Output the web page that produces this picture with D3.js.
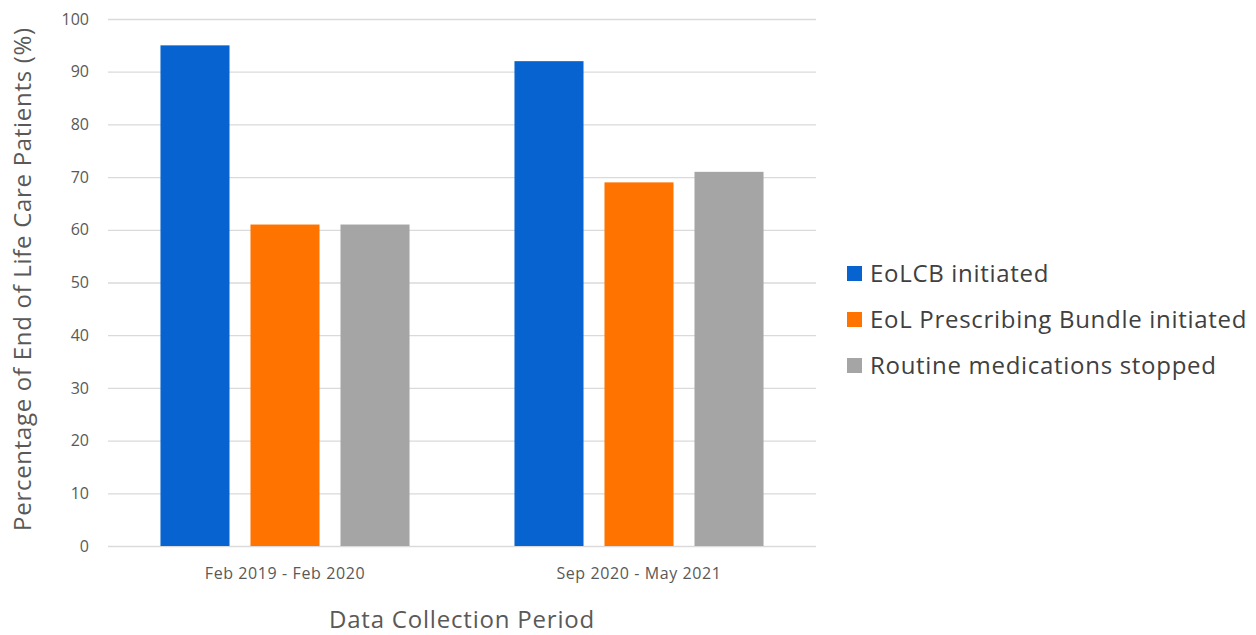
<!DOCTYPE html>
<html>
<head>
<meta charset="utf-8">
<script src="https://cdn.jsdelivr.net/npm/d3@7"></script>
<style>
	body { margin: 0; background: #fff; }
	svg text { font-family: "Open Sans", Lato, sans-serif; }
</style>
</head>
<body>
<svg id="chart" width="1256" height="635"></svg>
<script>

// data
const PERIODS = ['Feb 2019 - Feb 2020', 'Sep 2020 - May 2021'];
const SERIES = ['EoLCB initiated', 'EoL Prescribing Bundle initiated', 'Routine medications stopped'];
const EOLCB = [95, 92];
const PRESCRIBING = [61, 69];
const ROUTINE = [61, 71];
const Y_TICKS = [0, 10, 20, 30, 40, 50, 60, 70, 80, 90, 100];

const COLORS = ['#0763d0', '#ff7400', '#a5a5a5'];

const svg = d3.select('#chart');
const margin = {left: 108, right: 440, top: 19, bottom: 89};
const width = 1256 - margin.left - margin.right;
const height = 635 - margin.top - margin.bottom;

const rows = PERIODS.map((p, i) => ({
	period: p,
	values: [EOLCB[i], PRESCRIBING[i], ROUTINE[i]]
}));

const x0 = d3.scaleBand()
	.domain(PERIODS)
	.range([0, width])
	.padding(0);

const x1 = d3.scaleBand()
	.domain(SERIES)
	.range([0, x0.bandwidth()])
	.paddingInner(0.233)
	.paddingOuter(0.583);

const y = d3.scaleLinear()
	.domain([0, 100])
	.range([height, 0]);

const plot = svg.append('g')
	.attr('transform', `translate(${margin.left},${margin.top})`);

// gridlines
plot.append('g')
	.selectAll('line')
	.data(Y_TICKS)
	.enter()
	.append('line')
		.attr('x1', 0)
		.attr('x2', width)
		.attr('y1', d => y(d) + 0.5)
		.attr('y2', d => y(d) + 0.5)
		.attr('stroke', '#dadada')
		.attr('stroke-width', 1.3);

// y labels
plot.append('g')
	.selectAll('text')
	.data(Y_TICKS)
	.enter()
	.append('text')
		.attr('x', -19)
		.attr('y', d => y(d))
		.attr('dy', '0.35em')
		.attr('text-anchor', 'end')
		.attr('fill', '#595959')
		.style('font-size', '16px')
		.text(d => d);

// bars
const groups = plot.selectAll('.group')
	.data(rows)
	.enter()
	.append('g')
		.classed('group', true)
		.attr('transform', d => `translate(${x0(d.period)},0)`);

groups.selectAll('rect')
	.data(d => d.values.map((v, i) => ({series: SERIES[i], value: v, idx: i})))
	.enter()
	.append('rect')
		.attr('x', d => x1(d.series))
		.attr('width', x1.bandwidth())
		.attr('y', d => y(d.value))
		.attr('height', d => height - y(d.value))
		.attr('fill', d => COLORS[d.idx]);

// category labels
plot.append('g')
	.selectAll('text')
	.data(PERIODS)
	.enter()
	.append('text')
		.attr('x', d => x0(d) + x0.bandwidth() / 2)
		.attr('y', height + 33)
		.attr('text-anchor', 'middle')
		.attr('fill', '#595959')
		.style('font-size', '16px')
		.style('letter-spacing', '0.6px')
		.text(d => d);

// axis titles
svg.append('text')
	.attr('x', margin.left + width / 2)
	.attr('y', 628)
	.attr('text-anchor', 'middle')
	.attr('fill', '#595959')
	.style('font-size', '24px')
	.style('letter-spacing', '0.8px')
	.text('Data Collection Period');

svg.append('text')
	.attr('transform', 'translate(31,279) rotate(-90)')
	.attr('text-anchor', 'middle')
	.attr('fill', '#595959')
	.style('font-size', '24px')
	.style('letter-spacing', '0.7px')
	.text('Percentage of End of Life Care Patients (%)');

// legend
const legend = svg.append('g')
	.attr('transform', 'translate(847,274)');

const items = legend.selectAll('g')
	.data(SERIES)
	.enter()
	.append('g')
		.attr('transform', (d, i) => `translate(0,${i * 46})`);

items.append('rect')
	.attr('x', 0)
	.attr('y', -8)
	.attr('width', 15)
	.attr('height', 15)
	.attr('fill', (d, i) => COLORS[i]);

items.append('text')
	.attr('x', 23)
	.attr('y', 0)
	.attr('dy', '0.35em')
	.attr('fill', '#404040')
	.style('font-size', '24px')
	.style('letter-spacing', '0.7px')
	.text(d => d);

</script>
</body>
</html>
